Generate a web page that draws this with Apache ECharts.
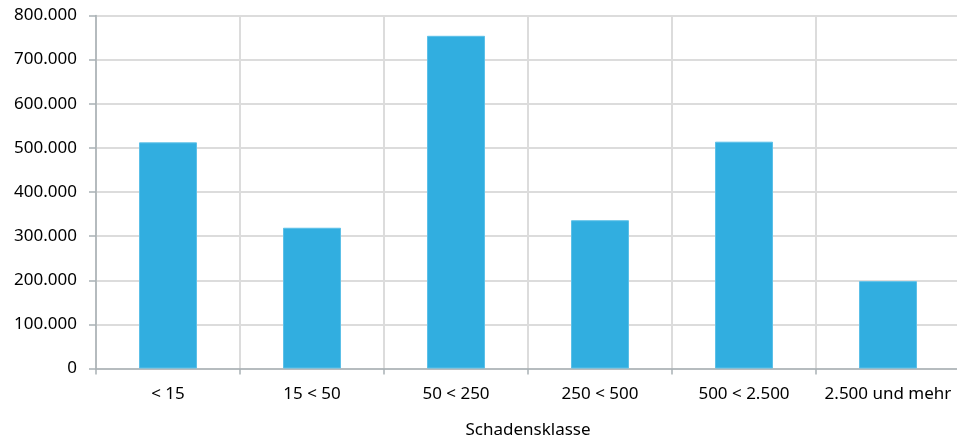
<!DOCTYPE html>
<html>
<head>
<meta charset="utf-8">
<script src="https://cdn.jsdelivr.net/npm/echarts@6/dist/echarts.min.js"></script>
<style>
  html, body { margin: 0; padding: 0; background: #ffffff; }
  #chart { width: 957px; height: 442px; }
</style>
</head>
<body>
<div id="chart"></div>
<script>
// Schadensklassen (Kategorien der x-Achse)
const categories = ['< 15', '15 < 50', '50 < 250', '250 < 500', '500 < 2.500', '2.500 und mehr'];
// Anzahl je Schadensklasse
const values = [512500, 319000, 754000, 336000, 514000, 198000];
// y-Achse: Bereich und Schrittweite
const yMin = 0;
const yMax = 800000;
const yStep = 100000;
const xAxisTitle = 'Schadensklasse';

// Tausenderpunkte wie im Deutschen üblich
function formatDe(v) {
  return String(v).replace(/\B(?=(\d{3})+(?!\d))/g, '.');
}

const chart = echarts.init(document.getElementById('chart'), null, { renderer: 'canvas' });
const font = '"Noto Sans", "Open Sans", sans-serif';
const textColor = '#000000';

chart.setOption({
  animation: false,
  backgroundColor: '#ffffff',
  grid: { left: 96, top: 15.5, width: 864, height: 353, outerBoundsMode: 'none', containLabel: false },
  xAxis: {
    type: 'category',
    data: categories,
    boundaryGap: true,
    name: xAxisTitle,
    nameLocation: 'middle',
    nameGap: 53,
    nameTextStyle: { color: textColor, fontSize: 17, fontFamily: font },
    axisLine: { show: true, lineStyle: { color: '#a9b1b5', width: 1.5 } },
    axisTick: { show: true, interval: 0, length: 6, alignWithLabel: false, lineStyle: { color: '#a9b1b5', width: 1.5 } },
    axisLabel: { interval: 0, color: textColor, fontSize: 17, fontFamily: font, margin: 17 },
    splitLine: { show: true, interval: 0, lineStyle: { color: '#dcdcdc', width: 2 } }
  },
  yAxis: {
    type: 'value',
    min: yMin,
    max: yMax,
    interval: yStep,
    axisLine: { show: true, lineStyle: { color: '#a9b1b5', width: 1.5 } },
    axisTick: { show: true, length: 7, lineStyle: { color: '#a9b1b5', width: 1.5 } },
    axisLabel: { color: textColor, fontSize: 17, fontFamily: font, margin: 19, formatter: formatDe },
    splitLine: { show: true, lineStyle: { color: '#dcdcdc', width: 2 } }
  },
  series: [{
    type: 'bar',
    data: values,
    barWidth: 58,
    itemStyle: { color: '#31aee0', borderColor: '#5cc0e8', borderWidth: 1 }
  }]
});
</script>
</body>
</html>
